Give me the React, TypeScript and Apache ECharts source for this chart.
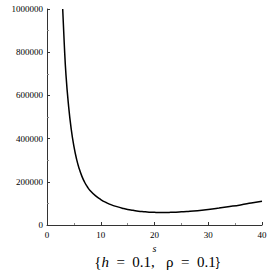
import React, { useEffect, useRef } from "react";
import * as echarts from "echarts";

const sValues = [2.92, 3.2, 3.53, 4.0, 4.5, 5.0, 5.5, 6.0, 6.5, 7.0, 7.5, 8.0, 9.0, 10.0, 11.0, 12.0, 13.0, 14.0, 15.0, 16.0, 17.0, 18.0, 19.0, 20.0, 21.0, 22.0, 23.0, 24.0, 25.0, 26.0, 28.0, 30.0, 32.0, 34.0, 36.0, 38.0, 40.0];
const costValues = [1000000, 845000, 695000, 555000, 445000, 365000, 305000, 260000, 225000, 198000, 177000, 160000, 136000, 118000, 104000, 93000, 85000, 78000, 72000, 68000, 64000, 61500, 59500, 58500, 58000, 58000, 58500, 59500, 61000, 62500, 66500, 72000, 78500, 85500, 93000, 101500, 110000];
const xTickLabels = ["0", "10", "20", "30", "40"];
const yTickLabels = ["0", "200000", "400000", "600000", "800000", "1000000"];
const xAxisTitle = "s";
const captionParts = ["{", "h", "  =  0.1,   ρ  =  0.1", "}"];

export default function App() {
  const ref = useRef<HTMLDivElement>(null);
  useEffect(() => {
    if (!ref.current) return;
    const chart = echarts.init(ref.current, undefined, { renderer: "svg" });
    const font = "'Liberation Serif', 'Times New Roman', serif";
    const axisColor = "#333";
    chart.setOption({
      animation: false,
      backgroundColor: "#fff",
      grid: { left: 47, right: 8, top: 9, bottom: 45, containLabel: false },
      xAxis: {
        type: "value",
        min: 0,
        max: 40,
        interval: 10,
        name: xAxisTitle,
        nameLocation: "middle",
        nameGap: 16,
        nameTextStyle: { fontFamily: font, fontStyle: "italic", fontSize: 10, color: "#000" },
        axisLine: { show: true, onZero: false, lineStyle: { color: axisColor, width: 1 } },
        axisTick: { show: true, inside: true, length: 3, lineStyle: { color: axisColor } },
        minorTick: { show: true, splitNumber: 2, length: 2, lineStyle: { color: "#888" } },
        splitLine: { show: false },
        axisLabel: {
          fontFamily: font,
          fontSize: 9,
          color: "#000",
          margin: 5,
          formatter: (v: number) => xTickLabels[Math.round(v / 10)] ?? "",
        },
      },
      yAxis: {
        type: "value",
        min: 0,
        max: 1000000,
        interval: 200000,
        axisLine: { show: true, onZero: false, lineStyle: { color: axisColor, width: 1 } },
        axisTick: { show: true, inside: true, length: 3, lineStyle: { color: axisColor } },
        minorTick: { show: true, splitNumber: 2, length: 2, lineStyle: { color: "#888" } },
        splitLine: { show: false },
        axisLabel: {
          fontFamily: font,
          fontSize: 9,
          color: "#000",
          margin: 4,
          formatter: (v: number) => yTickLabels[Math.round(v / 200000)] ?? "",
        },
      },
      series: [
        {
          type: "line",
          data: sValues.map((s, i) => [s, costValues[i]]),
          smooth: 0.5,
          showSymbol: false,
          clip: true,
          lineStyle: { color: "#000", width: 1.5 },
        },
      ],
      graphic: [
        {
          type: "text",
          x: 157,
          y: 262,
          style: {
            text: `{n|${captionParts[0]}}{i|${captionParts[1]}}{n|${captionParts[2]}}{n|${captionParts[3]}}`,
            align: "center",
            verticalAlign: "middle",
            rich: {
              n: { fontFamily: font, fontSize: 15, fill: "#000" },
              i: { fontFamily: font, fontSize: 15, fontStyle: "italic", fill: "#000" },
            },
          },
        },
      ],
    });
    return () => chart.dispose();
  }, []);
  return (
    <div
      ref={ref}
      style={{ position: "fixed", left: 0, top: 0, width: 270, height: 270, background: "#fff" }}
    />
  );
}
